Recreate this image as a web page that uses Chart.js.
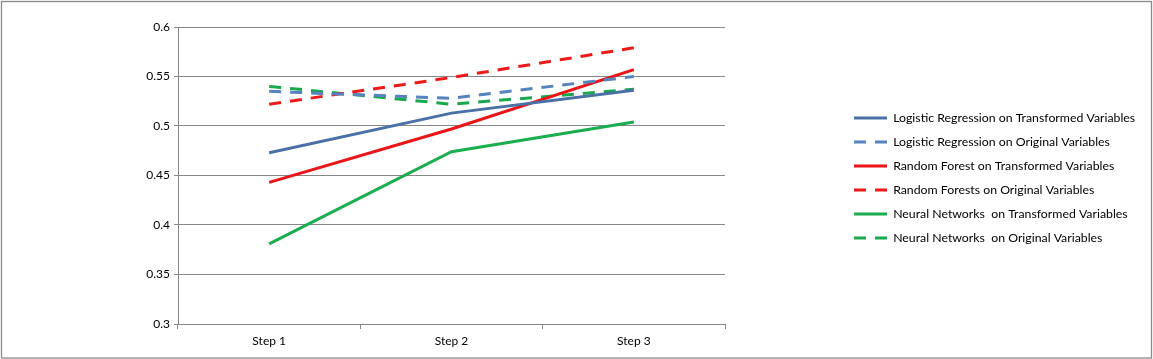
<!DOCTYPE html>
<html>
<head>
<meta charset="utf-8">
<script src="https://cdn.jsdelivr.net/npm/chart.js@4/dist/chart.umd.min.js"></script>
<style>
  html, body { margin: 0; padding: 0; background: #ffffff; }
  #wrap { width: 1153px; height: 359px; }
</style>
</head>
<body>
<div id="wrap"><canvas id="c" width="1153" height="359"></canvas></div>
<script>
// ---- data ----
const categories = ['Step 1', 'Step 2', 'Step 3'];
const yTickValues = [0.3, 0.35, 0.4, 0.45, 0.5, 0.55, 0.6];

const seriesNames = [
  'Logistic Regression on Transformed Variables',
  'Logistic Regression on Original Variables',
  'Random Forest on Transformed Variables',
  'Random Forests on Original Variables',
  'Neural Networks  on Transformed Variables',
  'Neural Networks  on Original Variables'
];
const lrTransformed = [0.473, 0.513, 0.536];
const lrOriginal    = [0.535, 0.528, 0.550];
const rfTransformed = [0.443, 0.497, 0.557];
const rfOriginal    = [0.522, 0.549, 0.579];
const nnTransformed = [0.381, 0.474, 0.504];
const nnOriginal    = [0.540, 0.522, 0.537];

// ---- styles ----
const FONT = 'Lato, "Open Sans", "Noto Sans", sans-serif';
const GRID = '#878787';
const DASH = [12, 9];

function ds(label, data, color, dashed) {
  return {
    label, data,
    borderColor: color,
    backgroundColor: color,
    borderWidth: 3,
    borderDash: dashed ? DASH : [],
    borderCapStyle: 'butt',
    pointRadius: 0,
    pointHoverRadius: 0,
    tension: 0,
    fill: false
  };
}

const LEGEND_FONT = 12.3;
const LEGEND_PAD = 24 - LEGEND_FONT;
const LEGEND_X = 854;      // left of legend line sample
const LEGEND_FIRST_Y = 118; // center of first legend row
const CHART_RIGHT = 725;

const frame = {
  id: 'frame',
  beforeDraw(chart) {
    const ctx = chart.ctx;
    ctx.save();
    ctx.fillStyle = '#ffffff';
    ctx.fillRect(0, 0, chart.width, chart.height);
    ctx.strokeStyle = '#8a8a8a';
    ctx.lineWidth = 1.3;
    ctx.strokeRect(1.5, 1.5, chart.width - 3, chart.height - 2.5);
    ctx.restore();
  }
};

const legendPlace = {
  id: 'legendPlace',
  beforeLayout(chart) {
    const lg = chart.legend;
    if (lg && !lg.__patched) {
      const fit = lg.fit;
      lg.fit = function () { fit.call(this); this.width = chart.width - CHART_RIGHT; };
      lg.__patched = true;
    }
  },
  afterLayout(chart) {
    const lg = chart.legend;
    if (!lg) return;
    const dx = LEGEND_X - (lg.left + LEGEND_PAD);
    lg.left += dx; lg.right += dx;
    const colH = 6 * (LEGEND_FONT + LEGEND_PAD);
    const startY = ((lg.top + LEGEND_PAD) + (lg.bottom - colH)) / 2;
    const dy = (LEGEND_FIRST_Y - LEGEND_FONT / 2) - startY;
    lg.top += dy; lg.bottom += dy;
  }
};

new Chart(document.getElementById('c'), {
  type: 'line',
  data: {
    labels: categories,
    datasets: [
      ds(seriesNames[0], lrTransformed, '#4A71A6', false),
      ds(seriesNames[1], lrOriginal,    '#5682BD', true),
      ds(seriesNames[2], rfTransformed, '#EA1518', false),
      ds(seriesNames[3], rfOriginal,    '#EE1A1A', true),
      ds(seriesNames[4], nnTransformed, '#1AAE4E', false),
      ds(seriesNames[5], nnOriginal,    '#19A84C', true)
    ]
  },
  options: {
    responsive: false,
    animation: false,
    devicePixelRatio: 1,
    layout: { padding: { top: 27, left: 0, right: 0, bottom: 0 } },
    plugins: {
      title: { display: false },
      tooltip: { enabled: false },
      legend: {
        display: true,
        position: 'right',
        align: 'center',
        labels: {
          usePointStyle: true,
          pointStyle: 'line',
          pointStyleWidth: 33,
          padding: LEGEND_PAD,
          color: '#000000',
          font: { family: FONT, size: LEGEND_FONT },
          generateLabels(chart) {
            const items = Chart.defaults.plugins.legend.labels.generateLabels(chart);
            items.forEach((it) => {
              const d = chart.data.datasets[it.datasetIndex];
              it.lineDash = d.borderDash || [];
              it.lineDashOffset = 0;
              it.strokeStyle = d.borderColor;
              it.lineWidth = d.borderWidth;
              it.lineCap = 'butt';
              it.pointStyle = 'line';
            });
            return items;
          }
        }
      }
    },
    scales: {
      x: {
        type: 'category',
        offset: true,
        grid: {
          display: true,
          offset: true,
          drawOnChartArea: false,
          drawTicks: true,
          tickLength: 5,
          color: GRID,
          lineWidth: 1
        },
        border: { display: true, color: GRID, width: 1 },
        ticks: {
          color: '#000000',
          padding: 5,
          font: { family: FONT, size: 12 },
          maxRotation: 0
        },
        afterFit(s) { s.height = 359 - 324; }
      },
      y: {
        type: 'linear',
        min: 0.3,
        max: 0.6,
        afterBuildTicks(s) { s.ticks = yTickValues.map(v => ({ value: v })); },
        grid: {
          color: GRID,
          lineWidth: 1,
          drawTicks: true,
          tickLength: 4
        },
        border: { display: true, color: GRID, width: 1 },
        ticks: {
          color: '#000000',
          padding: 4,
          font: { family: FONT, size: 12 },
          callback: (v) => String(v)
        },
        afterFit(s) { s.width = 178; }
      }
    }
  },
  plugins: [frame, legendPlace]
});
</script>
</body>
</html>
